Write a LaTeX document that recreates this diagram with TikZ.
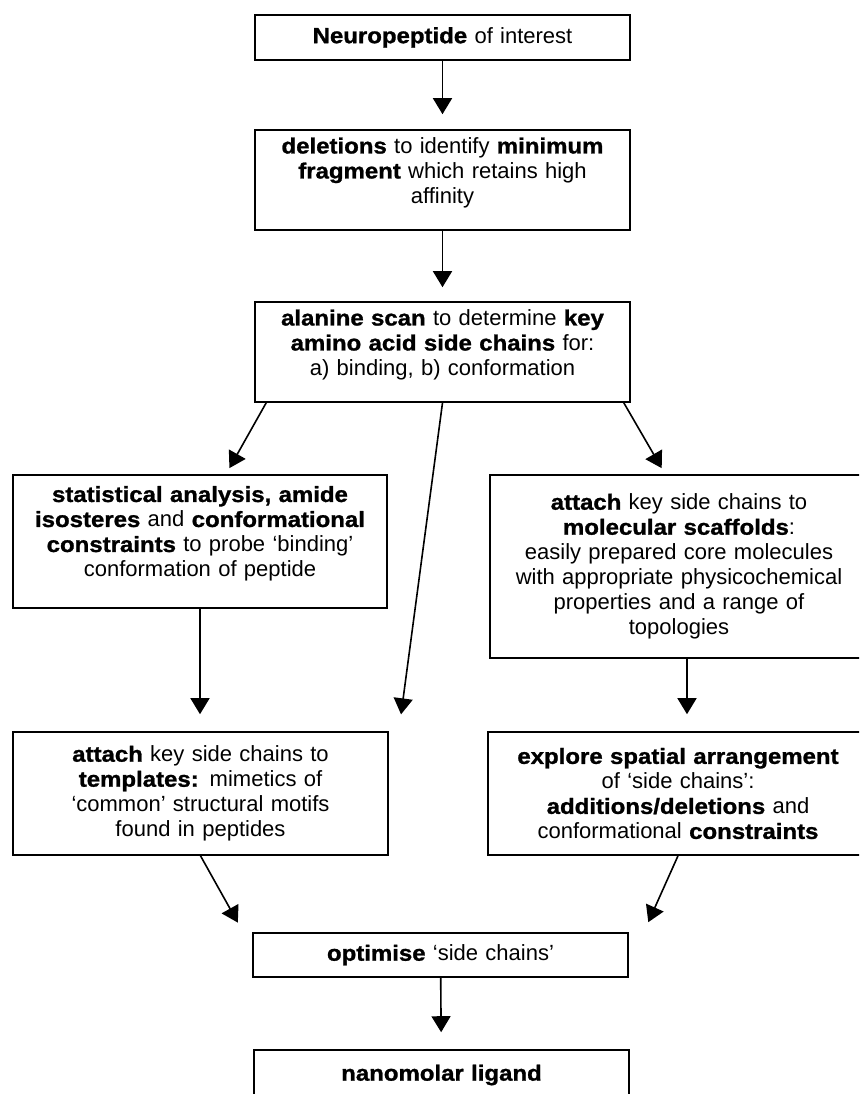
\documentclass[tikz,border=0pt]{standalone}
\usepackage{fontspec}
\setmainfont[BoldFeatures={FakeStretch=1.09, FakeBold=1.2}]{Liberation Sans}
\usetikzlibrary{arrows.meta,calc}
\newcommand*{\kw}[1]{\textbf{#1}}
\tikzset{
  stage/.style={draw, line width=1.6pt, align=center, inner xsep=4pt, inner ysep=0pt,
    text width=#1, font=\fontsize{22}{25}\selectfont},
  stage/.default=367pt,
  flow/.style={line width=1.6pt, -{Triangle[length=16pt,width=19pt]}},
}

\begin{document}
\begin{tikzpicture}[x=1pt, y=-1pt]
  \useasboundingbox (0,0) rectangle (859,1094);
  \clip (0,0) rectangle (859,1094);
  % main column
  \node[stage, minimum height=45pt] (pep) at (442.5,37.5) {\kw{Neuropeptide} of interest};
  \node[stage, minimum height=100pt, text depth=69pt] (del) at (442.5,180)
    {\kw{deletions} to identify \kw{minimum}\\ \kw{fragment} which retains high\\ affinity};
  \node[stage, minimum height=100pt, text depth=69pt] (ala) at (442.5,352)
    {\kw{alanine scan} to determine \kw{key}\\ \kw{amino acid side chains} for:\\ a) binding, b) conformation};
  % two branches
  \node[stage=366pt, minimum height=133pt, text depth=95pt] (stat) at (200,541.5)
    {\kw{statistical analysis, amide}\\ \kw{isosteres} and \kw{conformational}\\ \kw{constraints} to probe `binding'\\ conformation of peptide};
  \node[stage=370pt, minimum height=183pt] (scaf) at (679,566.5)
    {\kw{attach} key side chains to\\ \kw{molecular scaffolds}:\\ easily prepared core molecules\\ with appropriate physicochemical\\ properties and a range of\\ topologies};
  \node[stage, minimum height=123pt] (tmpl) at (200.5,793.5)
    {\kw{attach} key side chains to\\ \kw{templates:} mimetics of\\ `common' structural motifs\\ found in peptides};
  \node[stage=372pt, minimum height=123pt] (expl) at (678,793.5)
    {\kw{explore spatial arrangement}\\ of `side chains':\\ \kw{additions/deletions} and\\ conformational \kw{constraints}};
  % end of the route
  \node[stage, minimum height=44pt] (opt) at (440.5,955) {\kw{optimise} `side chains'};
  \node[stage, minimum height=50pt] (nano) at (441.5,1075) {\kw{nanomolar ligand}};

  \draw[flow, shorten >=15pt] (pep) -- (del);
  \draw[flow, shorten >=14pt] (del) -- (ala);
  \draw[flow, shorten >=7pt] ([xshift=12pt]ala.south west) -- ([xshift=26pt]stat.north);
  \draw[flow, shorten >=17pt] (ala.south) -- ([xshift=10pt]tmpl.north east);
  \draw[flow, shorten >=7pt] ([xshift=-7pt]ala.south east) -- ([xshift=176pt]scaf.north west);
  \draw[flow, shorten >=17pt] (stat.south) -- (stat.south |- tmpl.north);
  \draw[flow, shorten >=17pt] ([xshift=8pt]scaf.south) -- ([xshift=8pt]scaf.south |- expl.north);
  \draw[flow, shorten >=11pt] (tmpl.south) -- ([xshift=-9pt]opt.north west);
  \draw[flow, shorten >=11pt] (expl.south) -- ([xshift=15pt]opt.north east);
  \draw[flow, shorten >=17pt] (opt) -- (nano);
\end{tikzpicture}
\end{document}
